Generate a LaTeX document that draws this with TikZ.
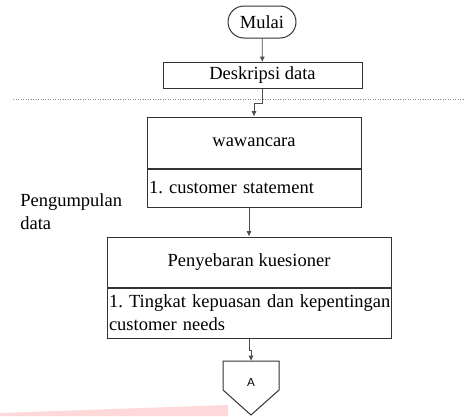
\documentclass[tikz,border=0pt]{standalone}
\usepackage{fontspec}
\setmainfont{Liberation Serif}
\newfontfamily\labelsans{Liberation Sans}
\usetikzlibrary{arrows.meta,positioning}

\tikzset{
  txt/.style={font=\fontsize{11.1}{13.8}\selectfont\frenchspacing},
  box/.style={txt, draw=black!80, line width=0.6pt, inner sep=0pt},
  start/.style={box, rounded corners=9.6pt, minimum width=40.8pt,
                minimum height=19.2pt},
  list/.style={box, align=left, inner xsep=1.2pt},
  flow/.style={->, draw=black!70, line width=0.45pt}
}

\begin{document}
\begin{tikzpicture}[x=0.6pt,y=-0.6pt,>={Latex[length=3.2pt,width=3pt]}]
  \useasboundingbox (0,0) rectangle (465,416);

  \fill[red!15] (0,416) -- (0,413) -- (228,405) -- (228,416) -- cycle;

  \node(mulai)[start] at (262,22) {Mulai};

  \node(desk)[box, minimum width=119.4pt, minimum height=15.6pt]
    at (262.5,75.5) {Deskripsi data};

  \draw[black!45, line width=0.6pt, dash pattern=on 0.6pt off 0.9pt]
    (13,99) -- (465,99);

  \node(waw)[box, minimum width=128.4pt, minimum height=30.6pt]
    at (254,142.5) {wawancara};
  \node(waw1)[list, below=0pt of waw, text width=126pt,
              minimum height=22.8pt]
    {\mbox{1. customer statement}};

  \node(kumpul)[txt, anchor=west, align=left, inner sep=0pt]
    at (20,212) {Pengumpulan\\data};

  \node(sebar)[box, minimum width=170.4pt, minimum height=30pt]
    at (249,262) {Penyebaran kuesioner};
  \node(sebar1)[list, below=0pt of sebar, text width=168pt,
                minimum height=30pt]
    {\mbox{1. Tingkat kepuasan dan kepentingan}\\customer needs};

  % off-page connector
  \draw[black!80, line width=0.6pt]
    (223,361) -- (279,361) -- (279,390) -- (251,415) -- (223,390) -- cycle;
  \coordinate(atop) at (251,361);
  \node(a)[font=\labelsans\fontsize{7}{8}\selectfont] at (251,382) {A};

  \draw[flow] (mulai) -- (desk);
  \draw[flow] (desk.south) -- ++(0,14) -| (waw.north);
  \draw[flow] (waw1.south -| sebar.north) -- (sebar.north);
  \draw[flow] (sebar1.south) -- ++(0,12) -| (atop);
\end{tikzpicture}
\end{document}
